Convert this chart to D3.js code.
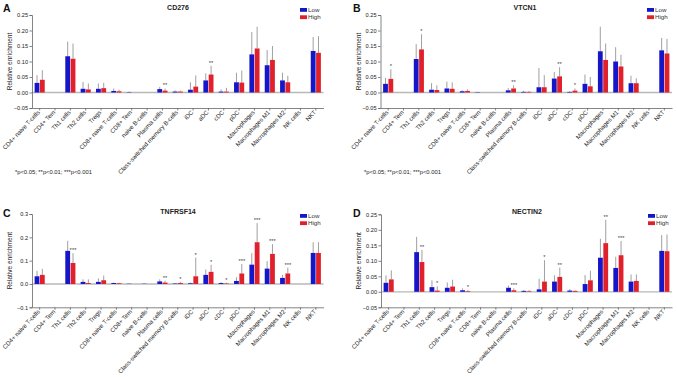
<!DOCTYPE html>
<html>
<head>
<meta charset="utf-8">
<script src="https://cdn.jsdelivr.net/npm/d3@7"></script>
<style>
  body { margin: 0; background: #fff; }
  svg { display: block; font-family: "Liberation Sans", Arial, sans-serif; }
</style>
</head>
<body>
<div class="canvas"></div>
<script>
const categories = ['CD4+ naive T-cells', 'CD4+ Tem', 'Th1 cells', 'Th2 cells', 'Tregs',
  'CD8+ naive T-cells', 'CD8+ Tem', 'naive B-cells', 'Plasma cells',
  'Class-switched memory B-cells', 'iDC', 'aDC', 'cDC', 'pDC', 'Macrophages',
  'Macrophages M1', 'Macrophages M2', 'NK cells', 'NKT'];

// CD276
const cd276Low = [0.031, 0, 0.117, 0.012, 0.012, 0.005, 0.001, 0, 0.011, 0.003, 0.009, 0.039, 0.003, 0.033, 0.123, 0.088, 0.039, 0, 0.134];
const cd276LowErr = [0.056, 0, 0.164, 0.034, 0.029, 0.013, 0.003, 0, 0.018, 0.007, 0.033, 0.062, 0.010, 0.064, 0.195, 0.137, 0.064, 0, 0.179];
const cd276High = [0.041, 0, 0.109, 0.010, 0.014, 0.004, 0, 0, 0.006, 0.003, 0.019, 0.058, 0.003, 0.032, 0.142, 0.105, 0.033, 0, 0.128];
const cd276HighErr = [0.072, 0, 0.158, 0.029, 0.031, 0.009, 0, 0, 0.013, 0.006, 0.055, 0.086, 0.015, 0.071, 0.212, 0.150, 0.054, 0, 0.182];
const cd276Sig = ['', '', '', '', '', '', '', '', '**', '', '', '**', '', '', '', '', '', '', ''];

// VTCN1
const vtcn1Low = [0.028, 0, 0.108, 0.009, 0.013, 0.004, 0.001, 0, 0.007, 0.002, 0.017, 0.045, 0.002, 0.028, 0.133, 0.100, 0.030, 0, 0.136];
const vtcn1LowErr = [0.047, 0, 0.156, 0.030, 0.035, 0.007, 0.002, 0, 0.014, 0.006, 0.079, 0.066, 0.004, 0.058, 0.212, 0.146, 0.054, 0, 0.176];
const vtcn1High = [0.044, 0, 0.139, 0.008, 0.012, 0.005, 0, 0, 0.013, 0.002, 0.017, 0.052, 0.006, 0.020, 0.105, 0.084, 0.030, 0, 0.126];
const vtcn1HighErr = [0.075, 0, 0.188, 0.023, 0.033, 0.010, 0, 0, 0.023, 0.005, 0.056, 0.082, 0.013, 0.050, 0.158, 0.122, 0.046, 0, 0.173];
const vtcn1Sig = ['*', '', '*', '', '', '', '', '', '**', '', '', '**', '*', '', '', '', '', '', ''];

// TNFRSF14
const tnfLow = [0.033, 0, 0.142, 0.009, 0.009, 0.004, 0.001, 0.001, 0.011, 0.002, 0.003, 0.039, 0.004, 0.013, 0.083, 0.066, 0.026, 0, 0.133];
const tnfLowErr = [0.056, 0, 0.185, 0.020, 0.024, 0.006, 0.002, 0.002, 0.020, 0.004, 0.006, 0.062, 0.008, 0.029, 0.132, 0.098, 0.039, 0, 0.179];
const tnfHigh = [0.039, 0, 0.090, 0.004, 0.016, 0.003, 0, 0, 0.006, 0.004, 0.033, 0.052, 0.002, 0.045, 0.179, 0.129, 0.045, 0, 0.133];
const tnfHighErr = [0.065, 0, 0.132, 0.020, 0.036, 0.005, 0, 0, 0.014, 0.009, 0.113, 0.082, 0.006, 0.086, 0.261, 0.171, 0.070, 0, 0.179];
const tnfSig = ['', '', '***', '', '', '', '', '', '**', '*', '*', '*', '*', '***', '***', '***', '***', '', ''];

// NECTIN2
const nectinLow = [0.029, 0, 0.128, 0.015, 0.013, 0.005, 0, 0, 0.013, 0.003, 0.008, 0.033, 0.004, 0.025, 0.110, 0.077, 0.033, 0, 0.132];
const nectinLowErr = [0.053, 0, 0.177, 0.037, 0.030, 0.011, 0, 0, 0.020, 0.006, 0.042, 0.053, 0.009, 0.054, 0.171, 0.113, 0.056, 0, 0.183];
const nectinHigh = [0.040, 0, 0.096, 0.004, 0.017, 0.002, 0, 0, 0.005, 0.002, 0.033, 0.048, 0.003, 0.037, 0.157, 0.118, 0.035, 0, 0.131];
const nectinHighErr = [0.069, 0, 0.135, 0.018, 0.039, 0.006, 0, 0, 0.011, 0.006, 0.102, 0.078, 0.005, 0.068, 0.232, 0.164, 0.056, 0, 0.185];
const nectinSig = ['', '', '**', '*', '', '*', '', '', '***', '', '*', '**', '', '', '**', '***', '', '', ''];

const ticks025 = [-0.05, 0, 0.05, 0.10, 0.15, 0.20, 0.25];
const ticks03 = [-0.1, 0, 0.1, 0.2, 0.3];
const footnote = '*p<0.05; **p<0.01; ***p<0.001';

const blue = '#1616c9';
const red = '#e0202a';

const svg = d3.select('.canvas').append('svg')
  .attr('width', 677)
  .attr('height', 377);

const panels = [
  { letter: 'A', title: 'CD276', low: cd276Low, lowErr: cd276LowErr, high: cd276High, highErr: cd276HighErr, sig: cd276Sig,
    left: 32, right: 323.5, top: 15, bottom: 108, domain: [-0.05, 0.25], ticks: ticks025, fmt: '.2f',
    titleX: 178, titleY: 8, letterX: 3, letterY: 12, legX: 300, legY: 8, labX: 12, note: [15, 172] },
  { letter: 'B', title: 'VTCN1', low: vtcn1Low, lowErr: vtcn1LowErr, high: vtcn1High, highErr: vtcn1HighErr, sig: vtcn1Sig,
    left: 380.5, right: 672, top: 15, bottom: 108, domain: [-0.05, 0.25], ticks: ticks025, fmt: '.2f',
    titleX: 525, titleY: 8, letterX: 353, letterY: 12, legX: 647, legY: 8, labX: 361, note: [364, 172] },
  { letter: 'C', title: 'TNFRSF14', low: tnfLow, lowErr: tnfLowErr, high: tnfHigh, highErr: tnfHighErr, sig: tnfSig,
    left: 32, right: 323.5, top: 214, bottom: 307.3, domain: [-0.1, 0.3], ticks: ticks03, fmt: '.1f',
    titleX: 178, titleY: 212, letterX: 3, letterY: 217, legX: 300, legY: 214, labX: 12, note: null },
  { letter: 'D', title: 'NECTIN2', low: nectinLow, lowErr: nectinLowErr, high: nectinHigh, highErr: nectinHighErr, sig: nectinSig,
    left: 381, right: 672, top: 214.3, bottom: 307.3, domain: [-0.05, 0.25], ticks: ticks025, fmt: '.2f',
    titleX: 527, titleY: 212, letterX: 353, letterY: 217, legX: 648, legY: 214, labX: 361, note: null }
];

panels.forEach(p => {
  const g = svg.append('g');

  // scales
  const x = d3.scaleBand().domain(categories).range([p.left, p.right]);
  const xs = d3.scaleBand().domain(['Low', 'High']).range([x.bandwidth() * 0.17, x.bandwidth() * 0.83]).paddingInner(0.1);
  const y = d3.scaleLinear().domain(p.domain).range([p.bottom, p.top]);

  // zero line
  g.append('line')
    .attr('x1', p.left).attr('x2', p.right)
    .attr('y1', y(0)).attr('y2', y(0))
    .attr('stroke', '#b8b8b8').attr('stroke-width', 1.3);

  const rows = categories.map((c, i) => ({
    c, i,
    vals: [
      { k: 'Low', v: p.low[i], e: p.lowErr[i], color: blue },
      { k: 'High', v: p.high[i], e: p.highErr[i], color: red }
    ]
  }));

  const grp = g.selectAll('g.cat').data(rows).enter().append('g')
    .attr('class', 'cat')
    .attr('transform', d => `translate(${x(d.c)},0)`);

  // error lines
  grp.selectAll('line.err').data(d => d.vals.filter(v => v.e > v.v)).enter().append('line')
    .attr('class', 'err')
    .attr('x1', d => xs(d.k) + xs.bandwidth() / 2)
    .attr('x2', d => xs(d.k) + xs.bandwidth() / 2)
    .attr('y1', d => y(d.v))
    .attr('y2', d => y(d.e))
    .attr('stroke', '#888').attr('stroke-width', 0.8);

  // bars
  grp.selectAll('rect').data(d => d.vals.filter(v => v.v > 0)).enter().append('rect')
    .attr('x', d => xs(d.k))
    .attr('y', d => y(d.v))
    .attr('width', xs.bandwidth())
    .attr('height', d => y(0) - y(d.v))
    .attr('fill', d => d.color);

  // significance stars
  grp.filter(d => p.sig[d.i] !== '').append('text')
    .attr('x', xs('High') + xs.bandwidth() / 2)
    .attr('y', d => y(p.highErr[d.i]) - 1)
    .attr('text-anchor', 'middle')
    .attr('font-size', 5.8)
    .attr('fill', '#444')
    .text(d => p.sig[d.i]);

  // axes
  const yAxis = d3.axisLeft(y).tickValues(p.ticks).tickSize(2.5).tickFormat(d3.format(p.fmt));
  const yAxisGroup = g.append('g')
    .attr('transform', `translate(${p.left},0)`)
    .call(yAxis);

  const xAxis = d3.axisBottom(x).tickSize(2.5).tickSizeOuter(0);
  const xAxisGroup = g.append('g')
    .attr('transform', `translate(0,${p.bottom})`)
    .call(xAxis);

  [yAxisGroup, xAxisGroup].forEach(a => {
    a.select('.domain').attr('stroke', '#666').attr('stroke-width', 0.8);
    a.selectAll('.tick line').attr('stroke', '#666').attr('stroke-width', 0.8);
    a.selectAll('text').attr('fill', '#222').attr('font-family', null);
  });
  yAxisGroup.selectAll('text').attr('x', -4).attr('font-size', 5.6);

  // rotate category labels
  xAxisGroup.selectAll('text')
    .attr('font-size', 6.1)
    .attr('transform', 'rotate(-47)')
    .attr('text-anchor', 'end')
    .attr('x', -3)
    .attr('y', 1.5)
    .attr('dy', '0.35em');

  // y label
  g.append('text')
    .attr('transform', `translate(${p.labX},${(p.top + p.bottom) / 2}) rotate(-90)`)
    .attr('text-anchor', 'middle')
    .attr('font-size', 6.5)
    .attr('fill', '#222')
    .text('Relative enrichment');

  // title and panel letter
  g.append('text')
    .attr('x', p.titleX).attr('y', p.titleY)
    .attr('text-anchor', 'middle')
    .attr('dominant-baseline', 'middle')
    .attr('font-size', 7)
    .attr('font-weight', 'bold')
    .attr('fill', '#222')
    .text(p.title);

  g.append('text')
    .attr('x', p.letterX).attr('y', p.letterY)
    .attr('font-size', 10.5)
    .attr('font-weight', 'bold')
    .attr('fill', '#111')
    .text(p.letter);

  // legend
  const leg = g.selectAll('g.leg').data([['Low', blue], ['High', red]]).enter().append('g')
    .attr('class', 'leg')
    .attr('transform', (d, i) => `translate(${p.legX},${p.legY + i * 7.3})`);
  leg.append('rect').attr('width', 7).attr('height', 3.8).attr('fill', d => d[1]);
  leg.append('text')
    .attr('x', 8).attr('y', 2)
    .attr('dominant-baseline', 'middle')
    .attr('font-size', 6.2)
    .attr('fill', '#333')
    .text(d => d[0]);

  if (p.note) {
    g.append('text')
      .attr('x', p.note[0]).attr('y', p.note[1])
      .attr('dominant-baseline', 'middle')
      .attr('font-size', 5.8)
      .attr('fill', '#222')
      .text(footnote);
  }
});
</script>
</body>
</html>
